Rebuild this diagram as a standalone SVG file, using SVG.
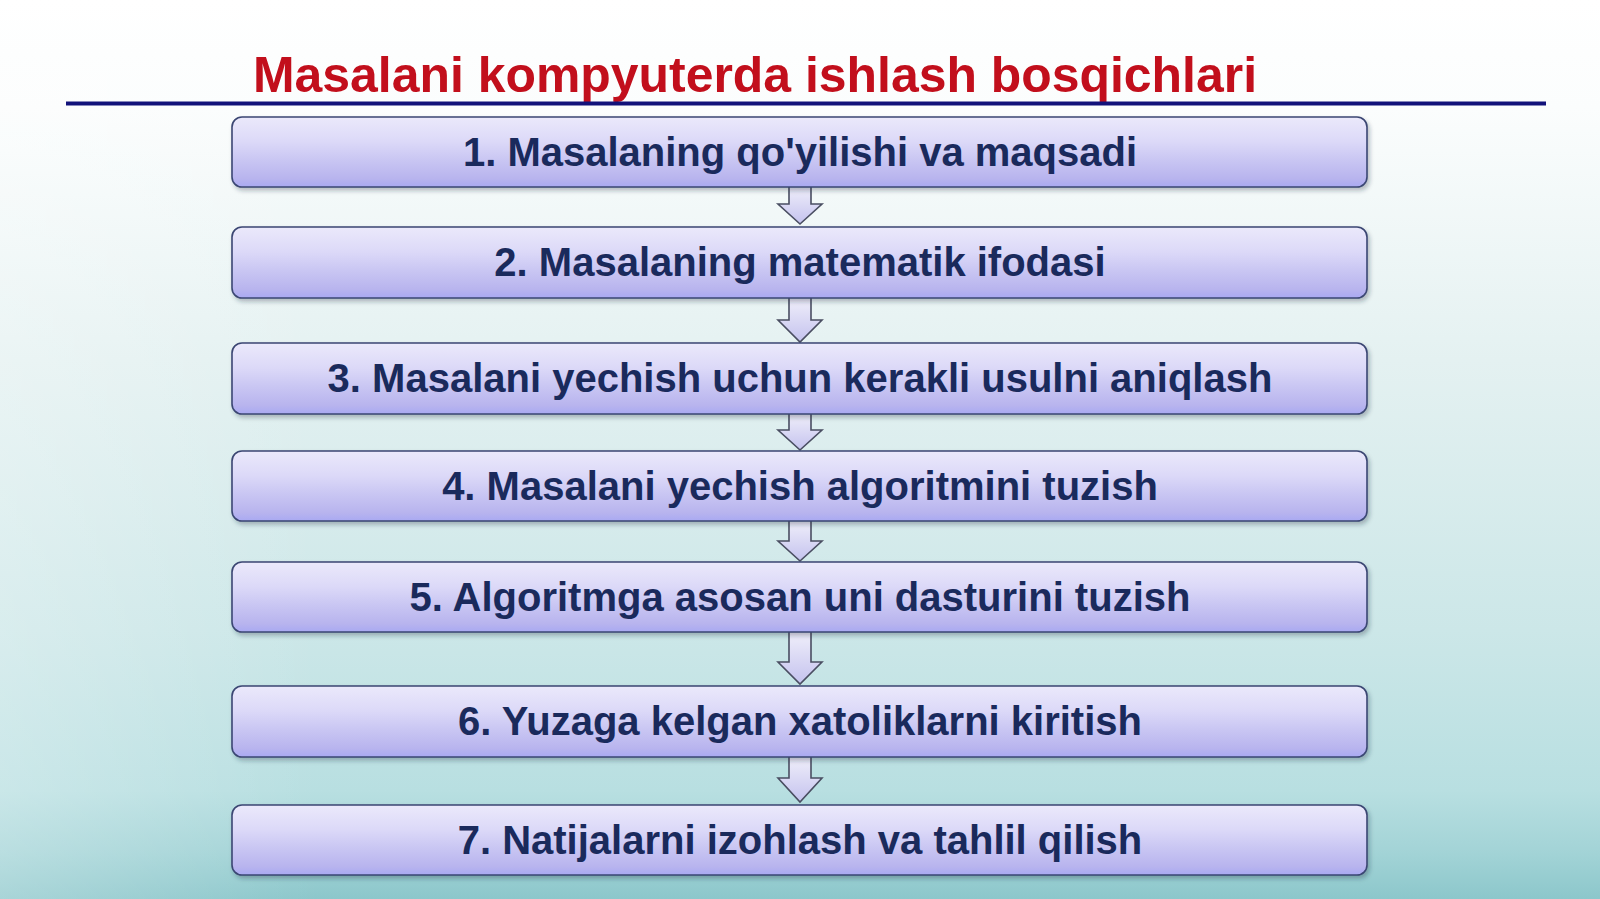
<svg xmlns="http://www.w3.org/2000/svg" width="1600" height="899" viewBox="0 0 1600 899">
<defs>
<linearGradient id="bg" x1="0" y1="0" x2="0" y2="1">
<stop offset="0" stop-color="#ffffff"/>
<stop offset="0.12" stop-color="#fbfdfd"/>
<stop offset="0.4" stop-color="#e4f1f1"/>
<stop offset="0.7" stop-color="#cce7e8"/>
<stop offset="0.88" stop-color="#b8dfe1"/>
<stop offset="0.95" stop-color="#a2d3d6"/>
<stop offset="1" stop-color="#8cc7cb"/>
</linearGradient>
<linearGradient id="bgside" x1="0" y1="0" x2="1" y2="0">
<stop offset="0" stop-color="#ffffff" stop-opacity="0.25"/>
<stop offset="0.2" stop-color="#ffffff" stop-opacity="0"/>
<stop offset="1" stop-color="#ffffff" stop-opacity="0"/>
</linearGradient>
<linearGradient id="boxfill" x1="0" y1="0" x2="0" y2="1">
<stop offset="0" stop-color="#ebe9fb"/>
<stop offset="0.35" stop-color="#dcd9f8"/>
<stop offset="0.6" stop-color="#cac7f3"/>
<stop offset="0.88" stop-color="#b8b4ee"/>
<stop offset="1" stop-color="#a9a9f2"/>
</linearGradient>
<linearGradient id="arrowfill" x1="0" y1="0" x2="0" y2="1">
<stop offset="0" stop-color="#f2f1fb"/>
<stop offset="1" stop-color="#c4c2ee"/>
</linearGradient>
<filter id="shadow" x="-5%" y="-20%" width="110%" height="150%">
<feDropShadow dx="2" dy="3" stdDeviation="2" flood-color="#203040" flood-opacity="0.3"/>
</filter>
</defs>
<style>
.box { fill: url(#boxfill); stroke: #3b4673; stroke-width: 1.6; filter: url(#shadow); }
.lbl { font-family: "Liberation Sans", Arial, sans-serif; font-weight: bold; font-size: 40px; fill: #1a2a5c; text-anchor: middle; }
.arrow { fill: url(#arrowfill); stroke: #4a4e62; stroke-width: 1.6; stroke-linejoin: miter; }
.title { font-family: "Liberation Sans", Arial, sans-serif; font-weight: bold; font-size: 50px; fill: #c20f1c; }
</style>
<rect x="0" y="0" width="1600" height="899" fill="url(#bg)"/>
<rect x="0" y="0" width="1600" height="899" fill="url(#bgside)"/>
<g id="title">
<text class="title" x="253" y="92" textLength="1004" lengthAdjust="spacingAndGlyphs">Masalani kompyuterda ishlash bosqichlari</text>
<line x1="66" y1="103.5" x2="1546" y2="103.5" stroke="#12127a" stroke-width="4"/>
</g>
<g id="connectors">
<path class="arrow" d="M789,185 L811,185 L811,204 L822,204 L800,224 L778,204 L789,204 Z"/>
<path class="arrow" d="M789,296 L811,296 L811,320 L822,320 L800,342 L778,320 L789,320 Z"/>
<path class="arrow" d="M789,412 L811,412 L811,430 L822,430 L800,450 L778,430 L789,430 Z"/>
<path class="arrow" d="M789,519 L811,519 L811,541 L822,541 L800,561 L778,541 L789,541 Z"/>
<path class="arrow" d="M789,630 L811,630 L811,662 L822,662 L800,684 L778,662 L789,662 Z"/>
<path class="arrow" d="M789,755 L811,755 L811,778 L822,778 L800,802 L778,778 L789,778 Z"/>
</g>
<g id="node1">
<rect class="box" x="232" y="117" width="1135" height="70" rx="10"/>
<text class="lbl" x="800" y="166">1. Masalaning qo'yilishi va maqsadi</text>
</g>
<g id="node2">
<rect class="box" x="232" y="227" width="1135" height="71" rx="10"/>
<text class="lbl" x="800" y="276">2. Masalaning matematik ifodasi</text>
</g>
<g id="node3">
<rect class="box" x="232" y="343" width="1135" height="71" rx="10"/>
<text class="lbl" x="800" y="392">3. Masalani yechish uchun kerakli usulni aniqlash</text>
</g>
<g id="node4">
<rect class="box" x="232" y="451" width="1135" height="70" rx="10"/>
<text class="lbl" x="800" y="500">4. Masalani yechish algoritmini tuzish</text>
</g>
<g id="node5">
<rect class="box" x="232" y="562" width="1135" height="70" rx="10"/>
<text class="lbl" x="800" y="611">5. Algoritmga asosan uni dasturini tuzish</text>
</g>
<g id="node6">
<rect class="box" x="232" y="686" width="1135" height="71" rx="10"/>
<text class="lbl" x="800" y="735">6. Yuzaga kelgan xatoliklarni kiritish</text>
</g>
<g id="node7">
<rect class="box" x="232" y="805" width="1135" height="70" rx="10"/>
<text class="lbl" x="800" y="854">7. Natijalarni izohlash va tahlil qilish</text>
</g>
</svg>
